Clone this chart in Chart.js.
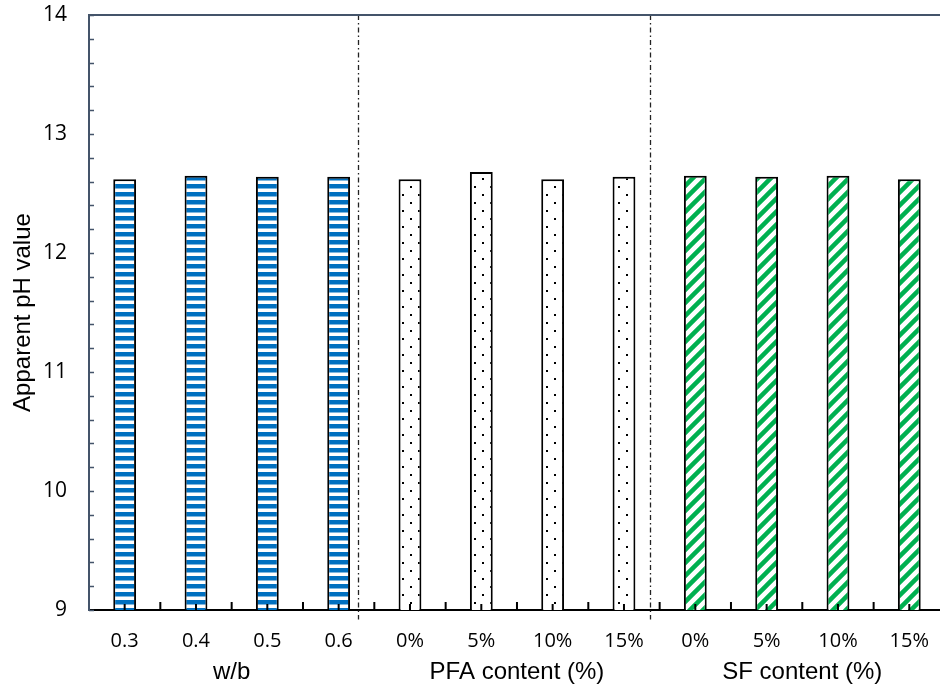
<!DOCTYPE html>
<html>
<head>
<meta charset="utf-8">
<script src="https://cdn.jsdelivr.net/npm/chart.js@4"></script>
<style>
  html, body { margin: 0; padding: 0; background: #fff; overflow: hidden; }
  #wrap { width: 948px; height: 690px; position: relative; }
</style>
</head>
<body>
<div id="wrap"><canvas id="phChart"></canvas></div>
<script>
  // Values.
  const categories = ['0.3', '0.4', '0.5', '0.6', '0%', '5%', '10%', '15%', '0%', '5%', '10%', '15%'];
  const wbValues = [12.62, 12.65, 12.64, 12.64];
  const pfaValues = [12.62, 12.68, 12.62, 12.64];
  const sfValues = [12.65, 12.64, 12.65, 12.62];
  const groupNames = ['w/b', 'PFA content (%)', 'SF content (%)'];
  const separatorsAt = [3.27, 7.37];
  const yTicks = [9, 10, 11, 12, 13, 14];

  const axisGrey = '#44546A';
  const blue = '#0070C0';
  const green = '#00B050';

  // Fill patterns for the three groups.
  function makePattern(size, draw) {
    const c = document.createElement('canvas');
    c.width = size;
    c.height = size;
    const g = c.getContext('2d');
    g.fillStyle = '#fff';
    g.fillRect(0, 0, size, size);
    draw(g, size);
    return document.createElement('canvas').getContext('2d').createPattern(c, 'repeat');
  }

  const stripes = makePattern(8, function (g) {
    g.fillStyle = blue;
    g.fillRect(0, 0, 8, 4.5);
  });

  const dots = makePattern(16, function (g) {
    g.fillStyle = '#000';
    g.fillRect(2, 2, 2, 2);
    g.fillRect(10, 10, 2, 2);
  });

  const hatch = makePattern(13, function (g, s) {
    g.strokeStyle = green;
    g.lineWidth = 4.5;
    g.beginPath();
    g.moveTo(-2, s + 2); g.lineTo(s + 2, -2);
    g.moveTo(-2, 2); g.lineTo(2, -2);
    g.moveTo(s - 2, s + 2); g.lineTo(s + 2, s - 2);
    g.stroke();
  });

  const values = wbValues.concat(pfaValues, sfValues);
  const fills = wbValues.map(() => stripes)
    .concat(pfaValues.map(() => dots), sfValues.map(() => hatch));

  const ySteps = [];
  for (let i = 0; i <= 25; i++) {
    ySteps.push(9 + i * 0.2);
  }

  // Inward tick marks, group separators and the top frame line.
  const axisMarks = {
    id: 'axisMarks',
    afterDatasetsDraw(chart) {
      const {ctx, chartArea, scales} = chart;
      const x = scales.x;
      const y = scales.y;
      const step = x.getPixelForValue(1) - x.getPixelForValue(0);
      ctx.save();

      ctx.strokeStyle = '#222';
      ctx.lineWidth = 1.3;
      ctx.setLineDash([5, 3, 1.5, 3]);
      ctx.beginPath();
      separatorsAt.forEach(function (pos) {
        const px = Math.round(x.getPixelForValue(0) + pos * step) + 0.5;
        ctx.moveTo(px, y.getPixelForValue(14));
        ctx.lineTo(px, y.getPixelForValue(8.92));
      });
      ctx.stroke();
      ctx.setLineDash([]);

      ctx.strokeStyle = axisGrey;
      ctx.lineWidth = 2;
      ctx.beginPath();
      ctx.moveTo(chartArea.left - 1, chartArea.top);
      ctx.lineTo(chartArea.right, chartArea.top);
      ctx.stroke();

      ctx.lineWidth = 1.5;
      ctx.beginPath();
      ySteps.forEach(function (v) {
        const py = Math.round(y.getPixelForValue(v)) + 0.5;
        ctx.moveTo(chartArea.left, py);
        ctx.lineTo(chartArea.left + 5, py);
      });
      ctx.stroke();

      ctx.strokeStyle = '#000';
      ctx.lineWidth = 2;
      ctx.beginPath();
      categories.forEach(function (c, i) {
        const mid = x.getPixelForValue(i);
        ctx.moveTo(mid, chartArea.bottom);
        ctx.lineTo(mid, chartArea.bottom - 6);
        const edge = mid + step / 2;
        ctx.moveTo(edge, chartArea.bottom);
        ctx.lineTo(edge, chartArea.bottom - 8);
      });
      ctx.stroke();
      ctx.restore();
    }
  };

  new Chart('phChart', {
    type: 'bar',
    data: {
      labels: categories,
      datasets: [{
        data: values,
        xAxisID: 'x',
        yAxisID: 'y',
        backgroundColor: fills,
        borderColor: '#000',
        borderWidth: 2,
        borderSkipped: false,
        barPercentage: 0.32,
        categoryPercentage: 1
      }]
    },
    options: {
      responsive: true,
      maintainAspectRatio: false,
      animation: false,
      layout: {padding: {top: 15, left: 0, right: 0, bottom: 0}},
      plugins: {
        legend: {display: false},
        tooltip: {enabled: false}
      },
      scales: {
        x: {
          type: 'category',
          position: 'bottom',
          weight: 0,
          grid: {display: false, drawTicks: false},
          border: {display: true, color: '#000', width: 2},
          ticks: {
            color: '#000',
            font: {family: 'Open Sans', size: 20},
            padding: 19,
            autoSkip: false,
            maxRotation: 0
          },
          afterFit: function (scale) { scale.height = 44; }
        },
        // Group names, one per block of four categories.
        x2: {
          type: 'category',
          labels: groupNames,
          offset: true,
          position: 'bottom',
          weight: 1,
          grid: {display: false, drawTicks: false},
          border: {display: false},
          ticks: {
            color: '#000',
            font: {family: 'Liberation Sans', size: 24},
            padding: 4,
            autoSkip: false,
            maxRotation: 0
          },
          afterFit: function (scale) { scale.height = 36; }
        },
        y: {
          min: 9,
          max: 14,
          afterBuildTicks: function (scale) {
            scale.ticks = yTicks.map(v => ({value: v}));
          },
          grid: {display: false, drawTicks: false},
          border: {display: true, color: axisGrey, width: 2},
          ticks: {
            color: '#000',
            font: {family: 'Open Sans', size: 21},
            padding: 22
          },
          title: {
            display: true,
            text: 'Apparent pH value',
            color: '#000',
            font: {family: 'Liberation Sans', size: 24},
            padding: {top: 9, bottom: 0}
          },
          afterFit: function (scale) {
            scale.width = 89;
            scale.paddingTop = 0;
            scale.paddingBottom = 0;
          }
        }
      }
    },
    plugins: [axisMarks]
  });
</script>
</body>
</html>
